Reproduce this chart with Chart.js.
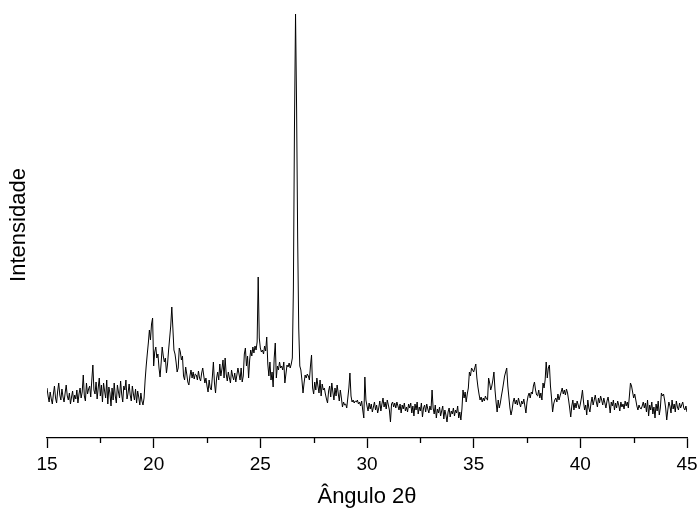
<!DOCTYPE html>
<html>
<head>
<meta charset="utf-8">
<script src="https://cdn.jsdelivr.net/npm/chart.js@4"></script>
<style>
  body { margin: 0; background: #fff; }
  #wrap { width: 697px; height: 512px; }
</style>
</head>
<body>
<div id="wrap"><canvas id="chart"></canvas></div>
<script>
const angleStart = 15
const angleStep = 0.05
// intensity, one row per degree (15.00 .. 44.95), then 45.00
const intensity = [
  50, 42, 36, 46, 39, 34, 44, 52, 40, 35, 47, 55, 43, 38, 49, 41, 36, 45, 53, 42,
  38, 45, 34, 41, 47, 36, 43, 39, 48, 35, 44, 50, 40, 46, 63, 42, 37, 55, 44, 49,
  52, 41, 58, 73, 48, 44, 56, 39, 50, 60, 42, 53, 36, 55, 47, 40, 58, 34, 51, 45,
  32, 50, 38, 55, 42, 35, 53, 46, 40, 57, 44, 36, 52, 48, 58, 39, 45, 54, 43, 37,
  52, 44, 38, 49, 35, 47, 41, 33, 45, 37, 33, 40, 58, 72, 84, 95, 108, 98, 114, 120,
  72, 86, 91, 80, 84, 70, 61, 75, 91, 82, 76, 80, 65, 74, 88, 100, 112, 131, 110, 88,
  84, 76, 66, 70, 90, 86, 78, 82, 62, 58, 71, 64, 56, 53, 62, 68, 60, 66, 59, 64,
  63, 58, 67, 60, 57, 65, 70, 62, 55, 60, 52, 46, 58, 50, 48, 61, 76, 55, 45, 60,
  66, 58, 74, 62, 69, 78, 60, 80, 64, 57, 66, 60, 55, 68, 62, 58, 65, 56, 63, 70,
  64, 58, 70, 56, 62, 84, 90, 72, 82, 60, 78, 88, 82, 91, 85, 92, 88, 96, 161, 100,
  90, 86, 88, 84, 92, 87, 101, 74, 62, 76, 58, 66, 51, 80, 95, 60, 72, 68, 76, 70,
  72, 68, 76, 55, 64, 73, 71, 75, 70, 74, 80, 150, 310, 424, 330, 200, 110, 72, 68, 58,
  45, 55, 63, 60, 64, 62, 58, 72, 83, 50, 44, 56, 48, 60, 52, 45, 58, 42, 54, 48,
  50, 44, 39, 35, 47, 52, 41, 55, 46, 38, 50, 42, 53, 45, 37, 48, 40, 31, 36, 33,
  34, 30, 40, 50, 65, 42, 36, 38, 35, 37, 36, 38, 34, 36, 32, 37, 28, 20, 61, 38,
  32, 27, 35, 29, 34, 26, 31, 36, 28, 33, 25, 30, 37, 27, 34, 40, 31, 36, 29, 38,
  33, 28, 16, 34, 36, 31, 35, 30, 36, 32, 28, 34, 25, 33, 29, 35, 27, 31, 26, 34,
  30, 35, 25, 32, 22, 34, 28, 36, 24, 31, 27, 35, 21, 30, 33, 26, 34, 29, 25, 32,
  28, 48, 30, 24, 33, 20, 29, 25, 31, 22, 27, 32, 19, 28, 23, 16, 26, 30, 21, 27,
  24, 30, 22, 28, 25, 32, 20, 26, 18, 29, 48, 40, 46, 36, 44, 50, 66, 62, 70, 68,
  66, 70, 74, 60, 51, 44, 38, 41, 36, 40, 37, 42, 39, 38, 60, 55, 48, 52, 58, 66,
  48, 36, 26, 38, 30, 35, 42, 48, 55, 62, 66, 70, 52, 41, 30, 23, 28, 36, 40, 34,
  38, 33, 40, 35, 31, 37, 34, 39, 32, 25, 36, 42, 45, 40, 46, 44, 52, 56, 48, 43,
  42, 48, 40, 45, 38, 55, 50, 58, 76, 60, 70, 73, 52, 40, 26, 34, 38, 40, 36, 44,
  38, 42, 46, 50, 44, 48, 43, 49, 45, 38, 30, 21, 32, 38, 28, 35, 30, 37, 33, 29,
  34, 40, 48, 36, 28, 33, 23, 38, 30, 26, 35, 41, 33, 38, 43, 36, 31, 40, 35, 42,
  38, 33, 40, 35, 30, 37, 41, 34, 25, 36, 32, 38, 28, 35, 30, 37, 33, 27, 36, 31,
  34, 29, 37, 32, 36, 30, 42, 55, 52, 46, 40, 44, 38, 32, 28, 33, 30, 29, 32, 36,
  30, 35, 26, 38, 22, 33, 28, 36, 24, 31, 20, 34, 27, 37, 23, 30, 45, 42, 44, 38,
  30, 18, 28, 36, 32, 25, 38, 29, 34, 26, 37, 31, 28, 35, 30, 33, 36, 30, 28, 32,
  26,
]
const majorTicks = [15, 20, 25, 30, 35, 40, 45]
const minorTicks = [17.5, 22.5, 27.5, 32.5, 37.5, 42.5]

const FONT = '"Liberation Sans", Arial, sans-serif'

const points = intensity.map((v, i) => ({ x: +(angleStart + i * angleStep).toFixed(2), y: v }))

// short unlabelled ticks between the numbered ones
const minorTickPlugin = {
  id: 'minorTicks',
  afterDraw(chart) {
    const xs = chart.scales.x
    const ctx = chart.ctx
    const y0 = chart.chartArea.bottom
    ctx.save()
    ctx.strokeStyle = '#000'
    ctx.lineWidth = 1.3
    minorTicks.forEach((v) => {
      const px = Math.round(xs.getPixelForValue(v)) + 0.5
      ctx.beginPath()
      ctx.moveTo(px, y0)
      ctx.lineTo(px, y0 + 5)
      ctx.stroke()
    })
    ctx.restore()
  },
}

new Chart(document.getElementById('chart'), {
  type: 'line',
  data: {
    datasets: [{
      data: points,
      borderColor: '#000',
      borderWidth: 1,
      pointRadius: 0,
      tension: 0,
      fill: false,
    }],
  },
  options: {
    responsive: true,
    maintainAspectRatio: false,
    animation: false,
    layout: { padding: { top: 12, right: 10, left: 0, bottom: 0 } },
    plugins: { legend: { display: false }, tooltip: { enabled: false } },
    scales: {
      x: {
        type: 'linear',
        min: 15,
        max: 45,
        afterBuildTicks: (s) => { s.ticks = majorTicks.map((v) => ({ value: v })) },
        ticks: { color: '#000', padding: 5, maxRotation: 0, font: { family: FONT, size: 19 } },
        grid: { drawOnChartArea: false, tickLength: 10, tickColor: '#000', tickWidth: 1.3 },
        border: { color: '#000', width: 1.3 },
        title: {
          display: true, text: 'Ângulo 2θ', color: '#000',
          font: { family: FONT, size: 22 }, padding: { top: 2, bottom: 2 },
        },
        afterFit: (s) => {
          s.height = 74
          s.paddingLeft = 0
          s.paddingRight = 0
        },
      },
      y: {
        min: 0,
        max: 426,
        ticks: { display: false },
        grid: { display: false },
        border: { display: false },
        title: {
          display: true, text: 'Intensidade', color: '#000',
          font: { family: FONT, size: 22 }, padding: { top: 6, bottom: 6 },
        },
        afterFit: (s) => { s.width = 47 },
      },
    },
  },
  plugins: [minorTickPlugin],
})
</script>
</body>
</html>
